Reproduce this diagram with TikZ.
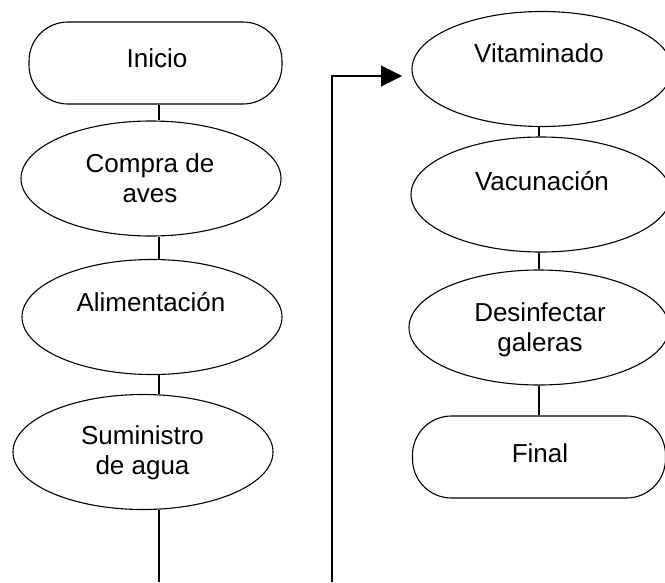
\documentclass[tikz,border=0pt]{standalone}
\usepackage{fontspec}
\setmainfont{Liberation Sans}
\usetikzlibrary{shapes.geometric,arrows.meta}
\begin{document}
\begin{tikzpicture}[x=1pt,y=-1pt,line width=1.1pt,
  elli/.style={draw,ellipse,minimum width=260pt,minimum height=115pt,inner sep=0pt},
  term/.style={draw,rounded corners=39pt,minimum width=253pt,minimum height=82pt,inner sep=0pt},
  lbl/.style={anchor=base,font=\fontsize{26}{30}\selectfont,inner sep=0pt},
  conn/.style={draw,line width=1.1pt},
  arr/.style={draw,line width=1.1pt,-{Triangle[length=21pt,width=21pt]}}]
\useasboundingbox (0,0) rectangle (665,582);
\clip (0,0) rectangle (665,582);
% left column
\node[term] (ini) at (155.5,63) {};
\node[elli] (comp) at (151,178.5) {};
\node[elli] (alim) at (152,317) {};
\node[elli] (sum) at (143,452) {};
% right column
\node[elli] (vit) at (542,69) {};
\node[elli] (vac) at (541,194.5) {};
\node[elli] (des) at (539,327.5) {};
\node[term] (fin) at (539,457) {};
% labels
\node[lbl] (t1) at (157,67) {Inicio};
\node[lbl] (t2a) at (150,172) {Compra de};
\node[lbl] (t2b) at (150,202) {aves};
\node[lbl] (t3) at (151,311) {Alimentación};
\node[lbl] (t4a) at (142.5,444) {Suministro};
\node[lbl] (t4b) at (142.5,474) {de agua};
\node[lbl] (t5) at (539,62) {Vitaminado};
\node[lbl] (t6) at (542,190) {Vacunación};
\node[lbl] (t7a) at (540,321) {Desinfectar};
\node[lbl] (t7b) at (540,351) {galeras};
\node[lbl] (t8) at (540,462) {Final};
% connectors
\coordinate (xl) at (159,0);
\coordinate (xr) at (539,0);
\coordinate (endL) at (159,582);
\coordinate (startR) at (332,582);
\coordinate (tipR) at (402,76);
\path[conn] (ini.south -| xl) -- (comp.north -| xl);
\path[conn] (comp.south -| xl) -- (alim.north -| xl);
\path[conn] (alim.south -| xl) -- (sum.north -| xl);
\path[conn] (sum.south -| xl) -- (endL);
\path[conn] (vit.south -| xr) -- (vac.north -| xr);
\path[conn] (vac.south -| xr) -- (des.north -| xr);
\path[conn] (des.south -| xr) -- (fin.north -| xr);
\path[arr] (startR) |- (tipR);
\end{tikzpicture}
\end{document}
